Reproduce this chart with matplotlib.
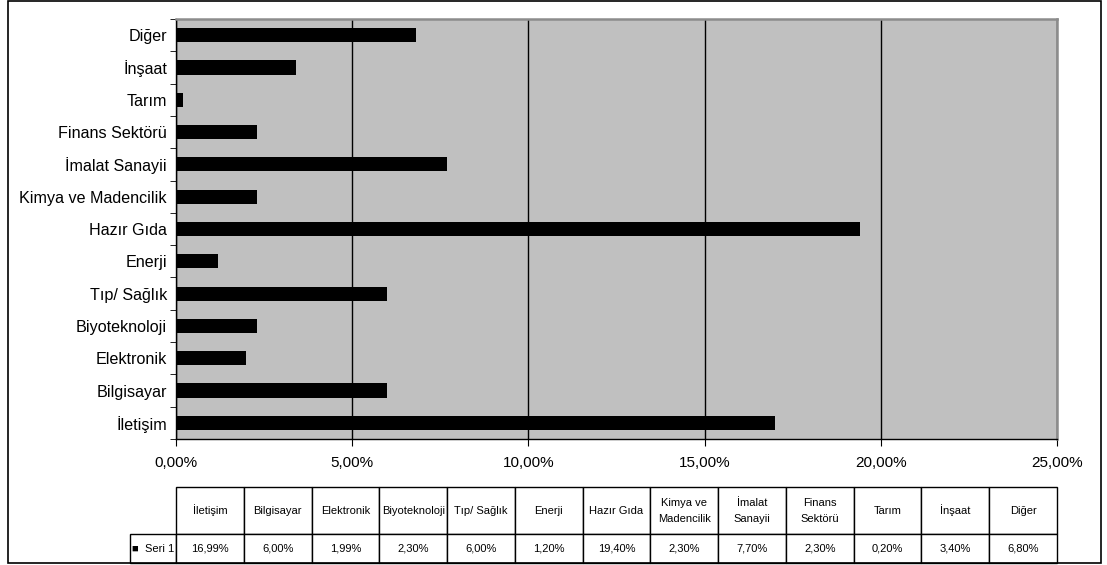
import matplotlib
matplotlib.use("Agg")
import matplotlib.pyplot as plt
from matplotlib.patches import Rectangle
from matplotlib.ticker import FuncFormatter
import numpy as np

plt.rcParams['font.family'] = ['Liberation Sans', 'DejaVu Sans']

# sectors, bottom to top as they appear on the chart
sectors = ["İletişim", "Bilgisayar", "Elektronik", "Biyoteknoloji", "Tıp/ Sağlık",
           "Enerji", "Hazır Gıda", "Kimya ve Madencilik", "İmalat Sanayii",
           "Finans Sektörü", "Tarım", "İnşaat", "Diğer"]
table_headers = ["İletişim", "Bilgisayar", "Elektronik", "Biyoteknoloji", "Tıp/ Sağlık",
                 "Enerji", "Hazır Gıda", "Kimya ve\nMadencilik", "İmalat\nSanayii",
                 "Finans\nSektörü", "Tarım", "İnşaat", "Diğer"]
shares = [16.99, 6.00, 1.99, 2.30, 6.00, 1.20, 19.40, 2.30, 7.70, 2.30, 0.20, 3.40, 6.80]
series_name = "Seri 1"
xticks = [0, 5, 10, 15, 20, 25]


def pct(v):
    return f"{v:.2f}".replace('.', ',') + '%'


W, H = 1107, 565
fig = plt.figure(figsize=(W / 100, H / 100), dpi=100)

# outer chart frame
fig.patches.append(Rectangle((8 / W, 1 - 563 / H), (1101 - 8) / W, (563 - 1) / H,
                             transform=fig.transFigure, fill=False,
                             edgecolor='black', lw=1.2, zorder=0))

ax = fig.add_axes([176 / W, 1 - 439 / H, (1057 - 176) / W, (439 - 19) / H])
ax.set_facecolor('#c0c0c0')
y = np.arange(len(sectors))
ax.barh(y, shares, height=0.44, color='black', zorder=3)

ax.set_xlim(0, 25)
ax.set_ylim(-0.5, len(sectors) - 0.5)
ax.set_xticks(xticks)
ax.xaxis.set_major_formatter(FuncFormatter(lambda v, p: pct(v)))
ax.tick_params(axis='x', direction='out', length=5, pad=7, labelsize=11)

ax.set_yticks(y)
ax.set_yticklabels(sectors)
ax.set_yticks(np.arange(-0.5, len(sectors)), minor=True)
ax.tick_params(axis='y', which='major', length=0, pad=6.5, labelsize=11.6)
ax.tick_params(axis='y', which='minor', direction='out', length=4)

ax.xaxis.grid(True, color='black', lw=1)
ax.set_axisbelow(True)
for side in ('top', 'right'):
    ax.spines[side].set_color('#8c8c8c')
    ax.spines[side].set_linewidth(1.8)
for side in ('left', 'bottom'):
    ax.spines[side].set_color('black')
    ax.spines[side].set_linewidth(1)

# data table under the chart (sizes in fractions of the table axes)
tw, th = 1057 - 120, 563 - 487
label_w, col_w = 56 / tw, 67.8 / tw
head_h, row_h = 47 / th, 29 / th

tax = fig.add_axes([120 / W, 1 - 563 / H, tw / W, th / H])
tax.axis('off')
tbl = tax.table(cellText=[[pct(v) for v in shares]],
                colLabels=table_headers,
                rowLabels=["■  " + series_name],
                cellLoc='center', colLoc='center', rowLoc='left',
                bbox=[label_w, 0, 1 - label_w, 1])
tbl.auto_set_font_size(False)
tbl.set_fontsize(8)
for (r, c), cell in tbl.get_celld().items():
    cell.set_edgecolor('black')
    cell.set_linewidth(1)
    cell.set_width(label_w if c == -1 else col_w)
    cell.set_height(head_h if r == 0 else row_h)
    cell.get_text().set_linespacing(1.75)
    if c == -1:
        cell.PAD = 0.05

fig.savefig("out.png", dpi=100)
